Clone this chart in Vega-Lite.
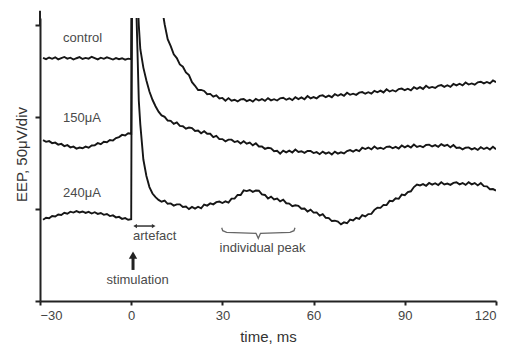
{
  "$schema": "https://vega.github.io/schema/vega-lite/v6.json",
  "autosize": {"type": "none"},
  "padding": {"left": 40, "top": 18, "right": 16, "bottom": 44},
  "width": 456,
  "height": 283,
  "background": "white",
  "config": {
    "view": {"stroke": null},
    "font": "Liberation Sans",
    "axis": {"grid": false, "domainColor": "#222", "tickColor": "#222", "domainWidth": 2, "tickWidth": 2, "labelColor": "#444", "titleColor": "#333", "titleFontWeight": "normal", "labelFont": "Liberation Sans", "titleFont": "Liberation Sans"}
  },
  "datasets": {
    "traces": [
      {"t": -29, "c": 132.3, "m": 87.5, "h": 44.2},
      {"t": -28, "c": 131.6, "m": 86.6, "h": 45.3},
      {"t": -27, "c": 132.5, "m": 87.0, "h": 45.0},
      {"t": -26, "c": 131.8, "m": 85.9, "h": 46.2},
      {"t": -25, "c": 132.6, "m": 86.2, "h": 46.0},
      {"t": -24, "c": 131.5, "m": 85.1, "h": 47.1},
      {"t": -23, "c": 132.2, "m": 85.5, "h": 46.8},
      {"t": -22, "c": 132.8, "m": 84.3, "h": 48.0},
      {"t": -21, "c": 131.9, "m": 84.8, "h": 47.5},
      {"t": -20, "c": 132.4, "m": 83.6, "h": 48.6},
      {"t": -19, "c": 131.4, "m": 84.0, "h": 48.1},
      {"t": -18, "c": 132.1, "m": 82.9, "h": 48.9},
      {"t": -17, "c": 132.7, "m": 83.5, "h": 48.2},
      {"t": -16, "c": 131.7, "m": 83.1, "h": 48.7},
      {"t": -15, "c": 132.3, "m": 84.0, "h": 47.9},
      {"t": -14, "c": 131.9, "m": 83.4, "h": 48.5},
      {"t": -13, "c": 132.9, "m": 84.6, "h": 47.6},
      {"t": -12, "c": 132.2, "m": 84.7, "h": 48.3},
      {"t": -11, "c": 131.5, "m": 85.9, "h": 47.4},
      {"t": -10, "c": 132.4, "m": 85.3, "h": 47.9},
      {"t": -9, "c": 131.8, "m": 86.6, "h": 46.9},
      {"t": -8, "c": 132.6, "m": 86.4, "h": 47.3},
      {"t": -7, "c": 132.0, "m": 87.6, "h": 46.2},
      {"t": -6, "c": 131.4, "m": 87.3, "h": 46.6},
      {"t": -5, "c": 132.2, "m": 88.7, "h": 45.5},
      {"t": -4, "c": 131.6, "m": 89.2, "h": 45.8},
      {"t": -3, "c": 132.1, "m": 90.4, "h": 44.7},
      {"t": -2, "c": 131.3, "m": 90.1, "h": 45.1},
      {"t": -1, "c": 131.9, "m": 91.3, "h": 44.2},
      {"t": 0, "c": 131.6, "m": 91.0, "h": 44.5},
      {"t": 0.3, "c": 200, "m": 200, "h": 200},
      {"t": 1, "c": 200, "m": 200, "h": 200},
      {"t": 1.5, "c": 200, "m": 200, "h": 170},
      {"t": 2, "c": 200, "m": 170, "h": 140},
      {"t": 2.5, "c": 200, "m": 150, "h": 109},
      {"t": 3, "c": 200, "m": 137, "h": 96},
      {"t": 4, "c": 200, "m": 127, "h": 77},
      {"t": 5, "c": 200, "m": 120, "h": 68},
      {"t": 6, "c": 200, "m": 114, "h": 62},
      {"t": 7, "c": 200, "m": 109.5, "h": 58.5},
      {"t": 8, "c": 200, "m": 106, "h": 56.5},
      {"t": 9, "c": 200, "m": 103, "h": 55},
      {"t": 10, "c": 161, "m": 101, "h": 54},
      {"t": 11, "c": 150.6, "m": 100.2, "h": 54.6},
      {"t": 12, "c": 142.5, "m": 98.2, "h": 52.9},
      {"t": 13, "c": 138.7, "m": 98.0, "h": 53.1},
      {"t": 14, "c": 134.2, "m": 96.4, "h": 51.9},
      {"t": 15, "c": 132.2, "m": 97.2, "h": 52.6},
      {"t": 16, "c": 128.7, "m": 95.3, "h": 52.6},
      {"t": 17, "c": 127.5, "m": 95.1, "h": 51.2},
      {"t": 18, "c": 124.4, "m": 93.8, "h": 51.4},
      {"t": 19, "c": 122.9, "m": 94.4, "h": 50.0},
      {"t": 20, "c": 119.1, "m": 94.1, "h": 51.2},
      {"t": 21, "c": 117.1, "m": 92.5, "h": 50.3},
      {"t": 22, "c": 114.8, "m": 92.8, "h": 51.3},
      {"t": 23, "c": 114.9, "m": 91.3, "h": 50.4},
      {"t": 24, "c": 114.3, "m": 92.4, "h": 52.5},
      {"t": 25, "c": 112.5, "m": 91.0, "h": 51.9},
      {"t": 26, "c": 112.7, "m": 91.0, "h": 53.1},
      {"t": 27, "c": 111.2, "m": 89.2, "h": 52.6},
      {"t": 28, "c": 111.9, "m": 89.9, "h": 53.8},
      {"t": 29, "c": 110.2, "m": 88.1, "h": 54.1},
      {"t": 30, "c": 110.5, "m": 88.1, "h": 53.3},
      {"t": 31, "c": 109.0, "m": 86.9, "h": 54.2},
      {"t": 32, "c": 110.4, "m": 87.8, "h": 53.5},
      {"t": 33, "c": 109.0, "m": 87.8, "h": 55.7},
      {"t": 34, "c": 109.5, "m": 86.5, "h": 55.7},
      {"t": 35, "c": 108.6, "m": 87.0, "h": 57.7},
      {"t": 36, "c": 109.7, "m": 85.7, "h": 57.7},
      {"t": 37, "c": 109.9, "m": 86.9, "h": 60.2},
      {"t": 38, "c": 108.8, "m": 85.6, "h": 59.8},
      {"t": 39, "c": 109.5, "m": 86.2, "h": 60.4},
      {"t": 40, "c": 108.5, "m": 84.7, "h": 59.4},
      {"t": 41, "c": 110.0, "m": 85.8, "h": 60.1},
      {"t": 42, "c": 109.1, "m": 84.1, "h": 60.0},
      {"t": 43, "c": 109.9, "m": 84.1, "h": 58.0},
      {"t": 44, "c": 108.9, "m": 82.8, "h": 57.7},
      {"t": 45, "c": 110.4, "m": 83.4, "h": 55.8},
      {"t": 46, "c": 109.2, "m": 83.1, "h": 56.8},
      {"t": 47, "c": 109.8, "m": 81.5, "h": 55.3},
      {"t": 48, "c": 109.1, "m": 81.7, "h": 55.7},
      {"t": 49, "c": 110.3, "m": 80.2, "h": 54.2},
      {"t": 50, "c": 110.6, "m": 81.8, "h": 55.1},
      {"t": 51, "c": 109.5, "m": 80.9, "h": 53.2},
      {"t": 52, "c": 110.3, "m": 81.8, "h": 53.0},
      {"t": 53, "c": 109.3, "m": 80.8, "h": 51.6},
      {"t": 54, "c": 110.9, "m": 82.4, "h": 52.1},
      {"t": 55, "c": 109.9, "m": 81.1, "h": 51.8},
      {"t": 56, "c": 110.8, "m": 81.5, "h": 50.2},
      {"t": 57, "c": 109.8, "m": 80.6, "h": 50.3},
      {"t": 58, "c": 111.5, "m": 81.6, "h": 48.7},
      {"t": 59, "c": 110.3, "m": 81.7, "h": 49.7},
      {"t": 60, "c": 111.0, "m": 80.5, "h": 48.1},
      {"t": 61, "c": 110.3, "m": 81.0, "h": 48.2},
      {"t": 62, "c": 111.6, "m": 79.9, "h": 46.5},
      {"t": 63, "c": 111.9, "m": 81.3, "h": 47.3},
      {"t": 64, "c": 110.9, "m": 80.2, "h": 45.3},
      {"t": 65, "c": 111.8, "m": 80.9, "h": 45.1},
      {"t": 66, "c": 110.9, "m": 79.7, "h": 43.5},
      {"t": 67, "c": 112.6, "m": 81.3, "h": 43.7},
      {"t": 68, "c": 111.7, "m": 80.2, "h": 43.2},
      {"t": 69, "c": 112.6, "m": 80.9, "h": 41.7},
      {"t": 70, "c": 111.7, "m": 80.3, "h": 42.8},
      {"t": 71, "c": 113.3, "m": 81.6, "h": 42.3},
      {"t": 72, "c": 112.2, "m": 82.1, "h": 44.3},
      {"t": 73, "c": 112.8, "m": 81.3, "h": 43.8},
      {"t": 74, "c": 112.2, "m": 82.3, "h": 45.3},
      {"t": 75, "c": 113.4, "m": 81.6, "h": 44.7},
      {"t": 76, "c": 113.7, "m": 83.4, "h": 46.7},
      {"t": 77, "c": 112.8, "m": 82.7, "h": 46.0},
      {"t": 78, "c": 113.6, "m": 83.5, "h": 47.3},
      {"t": 79, "c": 112.8, "m": 82.5, "h": 47.4},
      {"t": 80, "c": 114.4, "m": 84.1, "h": 49.6},
      {"t": 81, "c": 113.6, "m": 82.9, "h": 50.8},
      {"t": 82, "c": 114.5, "m": 83.4, "h": 50.7},
      {"t": 83, "c": 113.5, "m": 82.7, "h": 52.3},
      {"t": 84, "c": 115.2, "m": 83.9, "h": 52.2},
      {"t": 85, "c": 114.0, "m": 84.1, "h": 54.5},
      {"t": 86, "c": 114.7, "m": 83.1, "h": 54.3},
      {"t": 87, "c": 114.0, "m": 83.9, "h": 55.9},
      {"t": 88, "c": 115.3, "m": 83.0, "h": 55.6},
      {"t": 89, "c": 115.6, "m": 84.6, "h": 57.9},
      {"t": 90, "c": 114.7, "m": 83.6, "h": 57.6},
      {"t": 91, "c": 115.5, "m": 84.5, "h": 59.3},
      {"t": 92, "c": 114.6, "m": 83.5, "h": 59.7},
      {"t": 93, "c": 116.3, "m": 85.1, "h": 62.0},
      {"t": 94, "c": 115.4, "m": 83.8, "h": 63.4},
      {"t": 95, "c": 116.4, "m": 84.4, "h": 62.9},
      {"t": 96, "c": 115.4, "m": 83.7, "h": 63.6},
      {"t": 97, "c": 117.1, "m": 84.9, "h": 62.7},
      {"t": 98, "c": 115.9, "m": 85.1, "h": 64.2},
      {"t": 99, "c": 116.5, "m": 84.1, "h": 63.3},
      {"t": 100, "c": 115.9, "m": 84.8, "h": 64.1},
      {"t": 101, "c": 117.1, "m": 83.9, "h": 63.1},
      {"t": 102, "c": 117.5, "m": 85.4, "h": 64.6},
      {"t": 103, "c": 116.5, "m": 84.4, "h": 63.4},
      {"t": 104, "c": 117.4, "m": 85.0, "h": 63.9},
      {"t": 105, "c": 116.5, "m": 83.6, "h": 63.2},
      {"t": 106, "c": 118.1, "m": 84.9, "h": 64.3},
      {"t": 107, "c": 117.3, "m": 83.3, "h": 64.6},
      {"t": 108, "c": 118.2, "m": 83.5, "h": 63.5},
      {"t": 109, "c": 117.3, "m": 82.5, "h": 64.2},
      {"t": 110, "c": 118.9, "m": 83.4, "h": 63.2},
      {"t": 111, "c": 117.8, "m": 83.6, "h": 64.6},
      {"t": 112, "c": 118.4, "m": 82.5, "h": 63.5},
      {"t": 113, "c": 117.7, "m": 83.2, "h": 64.2},
      {"t": 114, "c": 119.0, "m": 82.2, "h": 62.9},
      {"t": 115, "c": 119.3, "m": 83.7, "h": 64.2},
      {"t": 116, "c": 118.4, "m": 82.7, "h": 62.5},
      {"t": 117, "c": 119.2, "m": 83.5, "h": 62.4},
      {"t": 118, "c": 118.4, "m": 82.4, "h": 60.8},
      {"t": 119, "c": 120.0, "m": 83.9, "h": 60.9},
      {"t": 120, "c": 119.1, "m": 82.6, "h": 60.1}
    ],
    "labels": [
      {"t": -22.4, "v": 143.1, "text": "control"},
      {"t": -22.4, "v": 99.6, "text": "150μA"},
      {"t": -22.4, "v": 58.8, "text": "240μA"},
      {"t": 0.6, "v": 35.4, "text": "artefact"}
    ],
    "centered": [
      {"t": 2.1, "v": 11.4, "text": "stimulation"},
      {"t": 43.2, "v": 29.1, "text": "individual peak"}
    ],
    "brace": [
      {"i": 1, "t": 29.77, "v": 39.89},
      {"i": 2, "t": 30.1, "v": 38.26},
      {"i": 3, "t": 31.41, "v": 37.39},
      {"i": 4, "t": 41.05, "v": 36.84},
      {"i": 5, "t": 41.81, "v": 34.12},
      {"i": 6, "t": 42.53, "v": 36.84},
      {"i": 7, "t": 52.24, "v": 37.39},
      {"i": 8, "t": 53.55, "v": 38.26},
      {"i": 9, "t": 53.88, "v": 39.89}
    ]
  },
  "layer": [
    {
      "data": {"values": [{"t": -30, "v": 150, "v2": 158}]},
      "mark": {"type": "rule", "color": "#222", "strokeWidth": 2},
      "encoding": {
        "x": {"field": "t", "type": "quantitative", "scale": {"domain": [-30, 120], "nice": false, "zero": false},
          "axis": {"values": [-30, 0, 30, 60, 90, 120], "title": "time, ms", "titleFontSize": 15, "labelFontSize": 13, "tickSize": 4, "labelPadding": 4, "titlePadding": 7}},
        "y": {"field": "v", "type": "quantitative", "scale": {"domain": [0, 154], "nice": false, "zero": false},
          "axis": {"values": [0, 50, 100, 150], "labels": false, "tickSize": 5, "title": "EEP, 50μV/div", "titleFontSize": 15, "titlePadding": 5, "titleY": 136}},
        "y2": {"field": "v2"}
      }
    },
    {
      "data": {"name": "traces"},
      "transform": [{"fold": ["c", "m", "h"], "as": ["series", "val"]}],
      "mark": {"type": "line", "clip": true, "color": "#161616", "strokeWidth": 1.9, "interpolate": "linear"},
      "encoding": {
        "x": {"field": "t", "type": "quantitative"},
        "y": {"field": "val", "type": "quantitative"},
        "detail": {"field": "series"}
      }
    },
    {
      "data": {"name": "labels"},
      "mark": {"type": "text", "align": "left", "baseline": "middle", "fontSize": 13, "color": "#4a4a4a", "font": "Liberation Sans"},
      "encoding": {
        "x": {"field": "t", "type": "quantitative"},
        "y": {"field": "v", "type": "quantitative"},
        "text": {"field": "text"}
      }
    },
    {
      "data": {"name": "centered"},
      "mark": {"type": "text", "align": "center", "baseline": "middle", "fontSize": 13, "color": "#4a4a4a", "font": "Liberation Sans"},
      "encoding": {
        "x": {"field": "t", "type": "quantitative"},
        "y": {"field": "v", "type": "quantitative"},
        "text": {"field": "text"}
      }
    },
    {
      "data": {"values": [{"t": 1.2, "t2": 7.5, "v": 40.8}]},
      "mark": {"type": "rule", "color": "#333", "strokeWidth": 1.5},
      "encoding": {
        "x": {"field": "t", "type": "quantitative"},
        "x2": {"field": "t2"},
        "y": {"field": "v", "type": "quantitative"}
      }
    },
    {
      "data": {"values": [{"t": 1.3, "v": 40.8, "s": "triangle-left"}, {"t": 7.4, "v": 40.8, "s": "triangle-right"}]},
      "mark": {"type": "point", "filled": true, "color": "#333", "size": 18, "opacity": 1},
      "encoding": {
        "x": {"field": "t", "type": "quantitative"},
        "y": {"field": "v", "type": "quantitative"},
        "shape": {"field": "s", "type": "nominal", "scale": null}
      }
    },
    {
      "data": {"values": [{"t": 0.6, "v": 16.9, "v2": 23.5}]},
      "mark": {"type": "rule", "color": "#222", "strokeWidth": 3},
      "encoding": {
        "x": {"field": "t", "type": "quantitative"},
        "y": {"field": "v", "type": "quantitative"},
        "y2": {"field": "v2"}
      }
    },
    {
      "data": {"values": [{"t": 0.6, "v": 25.0}]},
      "mark": {"type": "point", "shape": "triangle-up", "filled": true, "color": "#222", "size": 70, "opacity": 1},
      "encoding": {
        "x": {"field": "t", "type": "quantitative"},
        "y": {"field": "v", "type": "quantitative"}
      }
    },
    {
      "data": {"name": "brace"},
      "mark": {"type": "line", "color": "#666", "strokeWidth": 1.3},
      "encoding": {
        "x": {"field": "t", "type": "quantitative"},
        "y": {"field": "v", "type": "quantitative"},
        "order": {"field": "i", "type": "quantitative"}
      }
    }
  ]
}
